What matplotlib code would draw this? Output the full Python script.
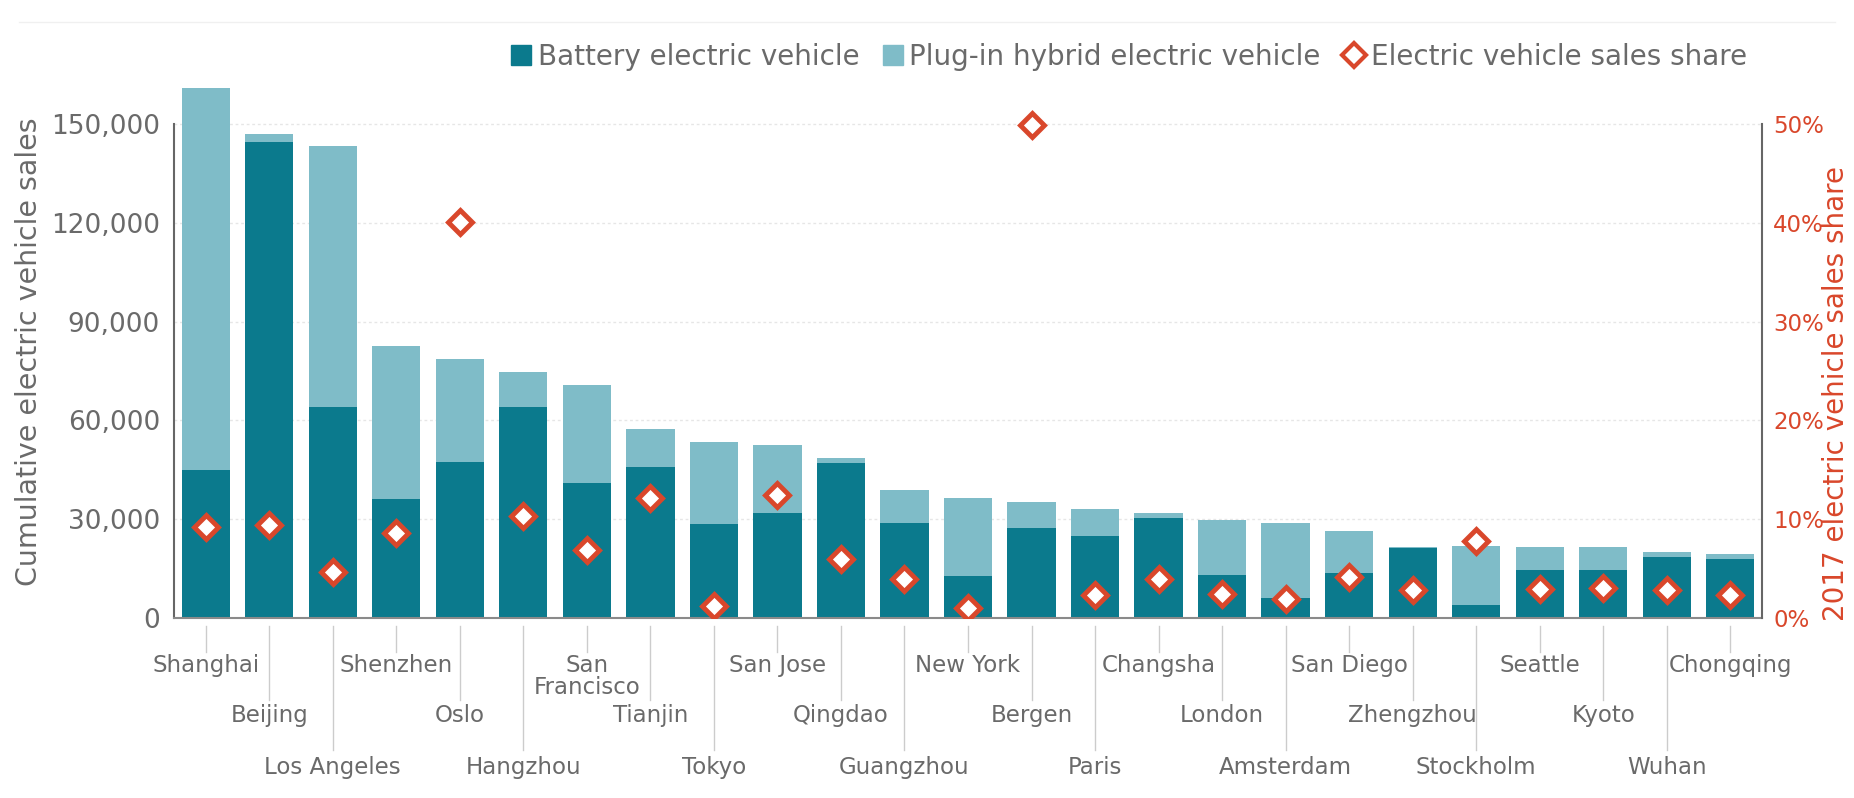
import matplotlib
matplotlib.use("Agg")
import matplotlib.pyplot as plt
from matplotlib.lines import Line2D
from matplotlib.ticker import FuncFormatter
import matplotlib.transforms as mtransforms

cities = ["Shanghai", "Beijing", "Los Angeles", "Shenzhen", "Oslo", "Hangzhou",
          "San\nFrancisco", "Tianjin", "Tokyo", "San Jose", "Qingdao", "Guangzhou",
          "New York", "Bergen", "Paris", "Changsha", "London", "Amsterdam",
          "San Diego", "Zhengzhou", "Stockholm", "Seattle", "Kyoto", "Wuhan", "Chongqing"]
bev = [45000, 144600, 64000, 36000, 47500, 64000, 41000, 45800, 28500, 31800,
       47000, 28900, 12700, 27400, 24900, 30300, 13000, 6200, 13800, 21300,
       3900, 14700, 14700, 18600, 18000]
phev = [116000, 2400, 79300, 46500, 31000, 10800, 29800, 11700, 24800, 20800,
        1600, 10100, 23600, 7900, 8100, 1700, 16900, 22600, 12500, 400,
        18100, 6800, 6800, 1400, 1300]
share = [9.2, 9.4, 4.7, 8.6, 40.1, 10.3, 6.9, 12.1, 1.2, 12.5, 6.0, 3.9, 1.0,
         49.9, 2.3, 3.9, 2.4, 1.9, 4.1, 2.8, 7.8, 2.9, 3.0, 2.8, 2.3]
yticks = [0, 30000, 60000, 90000, 120000, 150000]
rticks = [0, 10, 20, 30, 40, 50]

dark = "#0b7a8d"
light = "#7fbcc8"
red = "#d9472b"
grey = "#6a6a6a"

plt.rcParams['font.family'] = ['DejaVu Sans']

W, H = 1854, 798
fig = plt.figure(figsize=(W / 100, H / 100), dpi=100)
left, right, bottom, top = 174, 1762, 618, 84.5
ax = fig.add_axes([left / W, (H - bottom) / H, (right - left) / W, (bottom - top) / H])

x = list(range(len(cities)))
ax.bar(x, bev, width=0.76, color=dark, zorder=2)
ax.bar(x, phev, width=0.76, bottom=bev, color=light, zorder=2)
ax.set_xlim(-0.5, len(cities) - 0.5)
ax.set_ylim(0, 162000)
ax.set_yticks(yticks)
ax.yaxis.set_major_formatter(FuncFormatter(lambda v, p: f"{int(v):,}"))
ax.tick_params(axis='y', length=0, pad=10, labelsize=19, labelcolor=grey)
ax.set_xticks([])
ax.grid(axis='y', color="#e6e6e6", linestyle=(0, (2, 2)), linewidth=1, zorder=0)
for s in ["top", "right"]:
    ax.spines[s].set_visible(False)
ax.spines["left"].set_bounds(0, 150000)
ax.spines["left"].set_color("#666666")
ax.spines["left"].set_linewidth(1.5)
ax.spines["bottom"].set_color("#8a8a8a")
ax.spines["bottom"].set_linewidth(1.5)
ax.set_ylabel("Cumulative electric vehicle sales", fontsize=20.5, color=grey, labelpad=6)

ax2 = ax.twinx()
ax2.set_ylim(0, 54)
ax2.set_yticks(rticks)
ax2.yaxis.set_major_formatter(FuncFormatter(lambda v, p: f"{int(v)}%"))
ax2.tick_params(axis='y', length=0, pad=8, labelsize=16.5, labelcolor=red)
for s in ["top", "left", "bottom"]:
    ax2.spines[s].set_visible(False)
ax2.spines["right"].set_bounds(0, 50)
ax2.spines["right"].set_color("#666666")
ax2.spines["right"].set_linewidth(1.5)
ax2.plot(x, share, linestyle='none', marker='D', markersize=12.5,
         markerfacecolor='white', markeredgecolor=red, markeredgewidth=3.5, zorder=5)

fig.text(1822 / W, (H - 621) / H, "2017 electric vehicle sales share", rotation=90,
         ha='left', va='bottom', fontsize=20, color=red)

# staggered city labels with leader lines
ax_h = bottom - top
trans = mtransforms.blended_transform_factory(ax.transData, ax.transAxes)
line_ends = [34, 82, 132]
text_tops = [36, 86, 138]
for i, name in enumerate(cities):
    r = i % 3
    ax.add_line(Line2D([i, i], [-8 / ax_h, -line_ends[r] / ax_h], transform=trans,
                       color="#cccccc", linewidth=1, clip_on=False))
    ax.text(i, -text_tops[r] / ax_h, name, transform=trans, ha='center', va='top',
            fontsize=16.5, color=grey, linespacing=0.95)

handles = [
    Line2D([], [], linestyle='none', marker='s', markersize=15, color=dark),
    Line2D([], [], linestyle='none', marker='s', markersize=15, color=light),
    Line2D([], [], linestyle='none', marker='D', markersize=12, markerfacecolor='white',
           markeredgecolor=red, markeredgewidth=3),
]
labels = ["Battery electric vehicle", "Plug-in hybrid electric vehicle",
          "Electric vehicle sales share"]
fig.legend(handles, labels, loc='center right', bbox_to_anchor=(1758 / W, (H - 57) / H),
           ncol=3, frameon=False, fontsize=20, labelcolor=grey, handlelength=0.8,
           handletextpad=0.2, columnspacing=0.8, borderaxespad=0)

fig.add_artist(Line2D([0.01, 0.99], [(H - 22) / H, (H - 22) / H], color="#f0f0f0", linewidth=1))

fig.savefig("out.png", dpi=100)
